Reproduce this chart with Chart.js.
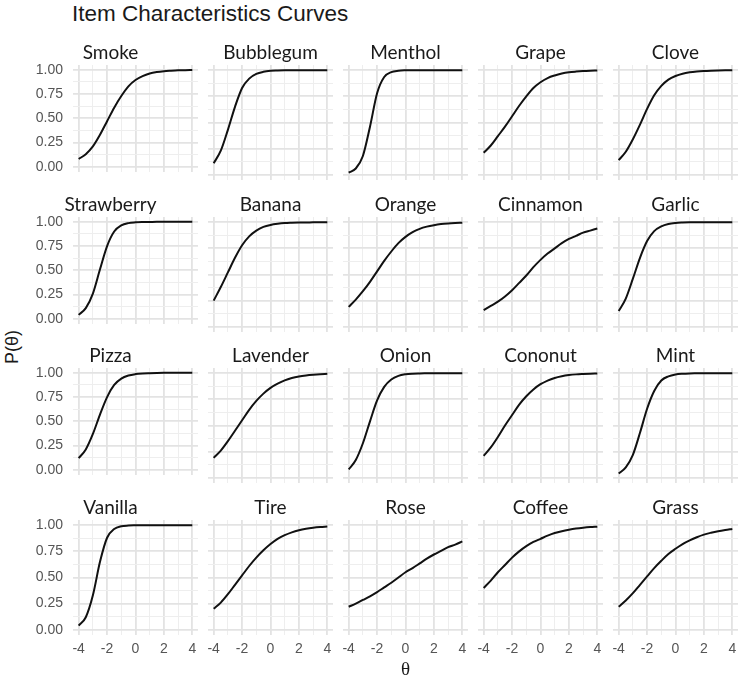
<!DOCTYPE html>
<html>
<head>
<meta charset="utf-8">
<script src="https://cdn.jsdelivr.net/npm/chart.js@4.4.1/dist/chart.umd.min.js"></script>
<style>
  html, body { margin: 0; padding: 0; background: #fff; overflow: hidden; }
  #wrap { position: relative; width: 749px; height: 679px; }
  #wrap canvas { position: absolute; }
  .fig-title { position: absolute; left: 72px; top: 1px; font: 22.5px "Liberation Sans", Arial, sans-serif; color: #1a1a1a; white-space: nowrap; }
  .y-title { position: absolute; left: 12px; top: 347px; font: 18px "Liberation Sans", Arial, sans-serif; color: #1a1a1a;
             transform: translate(-50%, -50%) rotate(-90deg); white-space: nowrap; }
</style>
</head>
<body>
<div id="wrap">
  <div class="fig-title">Item Characteristics Curves</div>
  <div class="y-title">P(θ)</div>
</div>
<script>
// theta grid the curves were read at
const theta = [-4, -3.5, -3, -2.5, -2, -1.5, -1, -0.5, 0, 0.5, 1, 1.5, 2, 2.5, 3, 3.5, 4]

const items = [
  'Smoke', 'Bubblegum', 'Menthol', 'Grape', 'Clove',
  'Strawberry', 'Banana', 'Orange', 'Cinnamon', 'Garlic',
  'Pizza', 'Lavender', 'Onion', 'Cononut', 'Mint',
  'Vanilla', 'Tire', 'Rose', 'Coffee', 'Grass'
]

// P(theta) per item
const smoke      = [0.08, 0.13, 0.21, 0.33, 0.47, 0.61, 0.73, 0.83, 0.895, 0.935, 0.962, 0.977, 0.986, 0.991, 0.995, 0.997, 0.998]
const bubblegum  = [0.11, 0.23, 0.43, 0.65, 0.83, 0.92, 0.965, 0.985, 0.994, 0.997, 0.999, 1, 1, 1, 1, 1, 1]
const menthol    = [0.02, 0.06, 0.18, 0.46, 0.78, 0.935, 0.982, 0.995, 0.999, 1, 1, 1, 1, 1, 1, 1, 1]
const grape      = [0.21, 0.28, 0.37, 0.46, 0.56, 0.66, 0.75, 0.83, 0.885, 0.925, 0.95, 0.968, 0.98, 0.987, 0.992, 0.995, 0.997]
const clove      = [0.14, 0.22, 0.34, 0.48, 0.63, 0.76, 0.85, 0.91, 0.945, 0.967, 0.98, 0.988, 0.993, 0.996, 0.998, 0.999, 0.999]
const strawberry = [0.04, 0.11, 0.26, 0.51, 0.75, 0.9, 0.963, 0.987, 0.995, 0.998, 0.999, 1, 1, 1, 1, 1, 1]
const banana     = [0.25, 0.38, 0.52, 0.66, 0.78, 0.865, 0.92, 0.955, 0.974, 0.985, 0.992, 0.995, 0.997, 0.998, 0.999, 1, 1]
const orange     = [0.19, 0.26, 0.34, 0.43, 0.53, 0.63, 0.72, 0.8, 0.86, 0.905, 0.937, 0.958, 0.972, 0.982, 0.988, 0.992, 0.995]
const cinnamon   = [0.16, 0.2, 0.24, 0.29, 0.35, 0.42, 0.49, 0.57, 0.64, 0.7, 0.75, 0.8, 0.84, 0.87, 0.9, 0.92, 0.94]
const garlic     = [0.15, 0.27, 0.46, 0.66, 0.82, 0.915, 0.96, 0.983, 0.993, 0.997, 0.999, 1, 1, 1, 1, 1, 1]
const pizza      = [0.12, 0.21, 0.37, 0.57, 0.75, 0.875, 0.94, 0.972, 0.987, 0.994, 0.997, 0.999, 1, 1, 1, 1, 1]
const lavender   = [0.19, 0.26, 0.35, 0.45, 0.55, 0.65, 0.735, 0.805, 0.86, 0.9, 0.932, 0.954, 0.969, 0.979, 0.986, 0.991, 0.994]
const onion      = [0.08, 0.17, 0.33, 0.54, 0.74, 0.87, 0.94, 0.975, 0.99, 0.996, 0.998, 0.999, 1, 1, 1, 1, 1]
const cononut    = [0.21, 0.29, 0.39, 0.5, 0.6, 0.7, 0.78, 0.845, 0.895, 0.93, 0.955, 0.971, 0.982, 0.989, 0.993, 0.996, 0.997]
const mint       = [0.04, 0.1, 0.22, 0.43, 0.66, 0.83, 0.93, 0.97, 0.988, 0.995, 0.998, 0.999, 1, 1, 1, 1, 1]
const vanilla    = [0.04, 0.12, 0.33, 0.65, 0.88, 0.963, 0.99, 0.997, 0.999, 1, 1, 1, 1, 1, 1, 1, 1]
const tire       = [0.2, 0.26, 0.34, 0.43, 0.52, 0.61, 0.69, 0.76, 0.82, 0.87, 0.905, 0.932, 0.952, 0.966, 0.976, 0.983, 0.988]
const rose       = [0.22, 0.25, 0.285, 0.32, 0.36, 0.405, 0.45, 0.5, 0.55, 0.59, 0.635, 0.68, 0.72, 0.755, 0.79, 0.815, 0.845]
const coffee     = [0.4, 0.47, 0.55, 0.62, 0.69, 0.75, 0.8, 0.84, 0.87, 0.9, 0.925, 0.943, 0.957, 0.968, 0.976, 0.982, 0.986]
const grass      = [0.22, 0.28, 0.35, 0.43, 0.51, 0.59, 0.66, 0.725, 0.775, 0.82, 0.855, 0.885, 0.91, 0.928, 0.943, 0.955, 0.965]

const probs = [
  smoke, bubblegum, menthol, grape, clove,
  strawberry, banana, orange, cinnamon, garlic,
  pizza, lavender, onion, cononut, mint,
  vanilla, tire, rose, coffee, grass
]

// grid positions (minor ones get an empty label)
const xTicks = [-4, -3, -2, -1, 0, 1, 2, 3, 4]
const xTickLabels = ['-4', '', '-2', '', '0', '', '2', '', '4']
const yTicks = [0, 0.125, 0.25, 0.375, 0.5, 0.625, 0.75, 0.875, 1]
const yTickLabels = ['0.00', '', '0.25', '', '0.50', '', '0.75', '', '1.00']

// facet layout
const PANEL_W = 125, PANEL_H = 115
const COL_LEFT = 73, COL_STEP = 135
const ROW_TOPS = [65, 217, 368, 520]
const PAD_X = 14, PAD_B = 10
const Y_AXIS_W = 50
const STRIP_SIZE = 19, STRIP_PAD = 1.2
const STRIP_H = STRIP_SIZE * 1.2 + STRIP_PAD

Chart.defaults.font.family = '"Liberation Sans", Arial, sans-serif'
Chart.defaults.color = '#4d4d4d'

const isMajorX = v => Math.abs(v % 2) < 1e-9
const isMajorY = v => Math.abs(v * 4 - Math.round(v * 4)) < 1e-9

const gridOpts = (isMajor) => ({
  display: true,
  drawTicks: false,
  color: ctx => isMajor(ctx.tick.value) ? '#e3e3e3' : '#eeeeee',
  lineWidth: ctx => isMajor(ctx.tick.value) ? 1.8 : 1
})

const wrap = document.getElementById('wrap')

items.forEach((name, i) => {
  const row = Math.floor(i / 5)
  const col = i % 5
  const showY = col === 0
  const showX = row === 3
  const showXTitle = showX && col === 2
  const yw = showY ? Y_AXIS_W : 0
  const xh = showX ? (showXTitle ? 46 : 28) : 0

  const canvas = document.createElement('canvas')
  const w = PANEL_W + 2 * PAD_X + yw
  const h = STRIP_H + PANEL_H + xh + PAD_B
  canvas.width = w
  canvas.height = h
  canvas.style.width = w + 'px'
  canvas.style.height = h + 'px'
  canvas.style.left = (COL_LEFT + col * COL_STEP - PAD_X - yw) + 'px'
  canvas.style.top = (ROW_TOPS[row] - STRIP_H) + 'px'
  wrap.appendChild(canvas)

  new Chart(canvas.getContext('2d'), {
    type: 'line',
    data: {
      datasets: [{
        data: theta.map((t, k) => ({ x: t, y: probs[i][k] })),
        borderColor: '#111',
        borderWidth: 2,
        pointRadius: 0,
        cubicInterpolationMode: 'monotone',
        fill: false
      }]
    },
    options: {
      responsive: false,
      animation: false,
      layout: { padding: { left: PAD_X, right: PAD_X, top: 0, bottom: PAD_B } },
      scales: {
        x: {
          type: 'linear',
          min: -4.4,
          max: 4.4,
          afterBuildTicks: s => { s.ticks = xTicks.map(v => ({ value: v })) },
          afterFit: s => { s.height = xh },
          border: { display: false },
          grid: gridOpts(isMajorX),
          ticks: {
            display: showX,
            padding: 6,
            maxRotation: 0,
            autoSkip: false,
            font: { size: 14 },
            color: '#555',
            callback: v => xTickLabels[xTicks.indexOf(v)]
          },
          title: {
            display: showXTitle,
            text: 'θ',
            color: '#1a1a1a',
            font: { size: 19, family: '"Liberation Serif", "DejaVu Serif", serif' },
            padding: { top: 0, bottom: 0 }
          }
        },
        y: {
          min: -0.05,
          max: 1.05,
          afterBuildTicks: s => { s.ticks = yTicks.map(v => ({ value: v })) },
          afterFit: s => { s.width = yw },
          border: { display: false },
          grid: gridOpts(isMajorY),
          ticks: {
            display: showY,
            padding: 10,
            autoSkip: false,
            font: { size: 14 },
            color: '#555',
            callback: v => yTickLabels[yTicks.indexOf(v)]
          }
        }
      },
      plugins: {
        legend: { display: false },
        tooltip: { enabled: false },
        title: {
          display: true,
          text: name,
          color: '#1a1a1a',
          font: { size: STRIP_SIZE, family: 'Lato, "Open Sans", sans-serif', weight: 'normal', lineHeight: 1.2 },
          padding: { top: 0, bottom: STRIP_PAD }
        }
      }
    }
  })
})
</script>
</body>
</html>
